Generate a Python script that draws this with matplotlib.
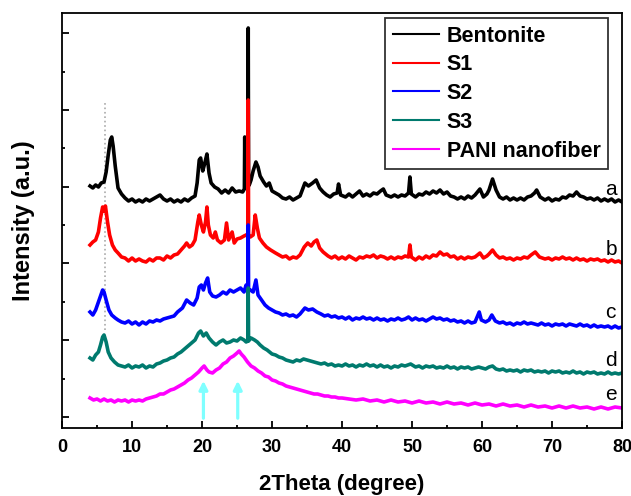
import numpy as np
import matplotlib
matplotlib.use("Agg")
import matplotlib.pyplot as plt
from matplotlib.ticker import MultipleLocator

plt.rcParams['font.family'] = ['Liberation Sans', 'DejaVu Sans']

# XRD patterns, offset vertically (arbitrary units)
theta_a = [4.0, 4.4, 4.8, 5.2, 5.6, 6.0, 6.3, 6.6, 6.9, 7.1, 7.3, 7.6, 8.0, 8.5, 9.0, 9.5,
           10.0, 10.5, 11.0, 11.5, 12.0, 12.5, 13.0, 13.5, 14.0, 14.5, 15.0, 15.5, 16.0, 16.5,
           17.0, 17.5, 18.0, 18.5, 19.0, 19.3, 19.6, 19.8, 20.1, 20.4, 20.7, 21.0, 21.3, 21.8,
           22.3, 22.8, 23.3, 23.8, 24.3, 24.8, 25.3, 25.8, 26.05, 26.1, 26.15, 26.4, 26.55, 26.6,
           26.65, 26.8, 27.0, 27.3, 27.7, 28.0, 28.3, 28.8, 29.2, 29.6, 30.0, 30.5, 31.0, 31.5,
           32.0, 32.5, 33.0, 33.5, 34.0, 34.7, 35.2, 35.8, 36.3, 36.8, 37.3, 37.8, 38.3, 38.8,
           39.3, 39.5, 39.8, 40.5, 41.0, 41.5, 42.0, 42.5, 43.0, 43.5, 44.0, 44.5, 45.0, 45.5,
           45.9, 46.3, 47.0, 47.5, 48.0, 48.5, 49.0, 49.5, 49.7, 49.9, 50.5, 51.0, 51.5, 52.0,
           52.5, 53.0, 53.5, 54.0, 54.5, 55.0, 55.5, 56.0, 56.5, 57.0, 57.5, 58.0, 58.5, 59.0,
           59.7, 60.2, 60.7, 61.0, 61.5, 62.0, 62.5, 63.0, 63.5, 64.0, 64.5, 65.0, 65.5, 66.0,
           66.5, 67.0, 67.5, 67.8, 68.3, 69.0, 69.5, 70.0, 70.5, 71.0, 71.5, 72.0, 72.5, 73.0,
           73.5, 74.0, 74.5, 75.0, 75.5, 76.0, 76.5, 77.0, 77.5, 78.0, 78.5, 79.0, 79.5, 80.0]
int_a = [242, 240, 243, 241, 245, 246, 256, 273, 288, 291, 282, 262, 240, 234, 230, 227,
         229, 226, 228, 226, 229, 227, 229, 231, 233, 229, 227, 229, 226, 228,
         226, 229, 227, 230, 232, 245, 268, 270, 257, 265, 274, 255, 245, 241,
         239, 235, 238, 235, 240, 236, 237, 236, 239, 291, 240, 241, 242, 400,
         242, 244, 248, 257, 266, 261, 252, 246, 242, 245, 237, 235, 233, 230,
         229, 231, 228, 230, 232, 245, 242, 245, 248, 240, 236, 233, 231, 234,
         235, 244, 233, 231, 234, 231, 234, 237, 232, 234, 232, 235, 234, 237,
         239, 233, 231, 233, 231, 233, 232, 235, 251, 234, 231, 234, 233, 236,
         234, 237, 235, 238, 234, 236, 232, 231, 229, 231, 229, 232, 230, 233,
         239, 231, 234, 238, 249, 238, 231, 229, 231, 228, 230, 228, 230, 228,
         231, 232, 235, 238, 231, 228, 230, 227, 229, 228, 231, 230, 233, 232,
         236, 232, 231, 229, 230, 228, 230, 227, 229, 227, 229, 226, 228, 226]

theta_b = [4.0, 4.4, 4.8, 5.2, 5.5, 5.8, 6.0, 6.2, 6.5, 6.8, 7.2, 7.6, 8.0, 8.5, 9.0, 9.5,
           10.0, 10.5, 11.0, 11.5, 12.0, 12.5, 13.0, 13.5, 14.0, 14.5, 15.0, 15.5, 16.0, 16.5,
           17.0, 17.5, 17.8, 18.2, 18.6, 19.0, 19.4, 19.6, 19.9, 20.2, 20.5, 20.7, 20.9, 21.2,
           21.6, 21.9, 22.2, 22.7, 23.2, 23.5, 23.8, 24.3, 24.6, 25.0, 25.5, 26.0, 26.3, 26.55,
           26.6, 26.65, 26.9, 27.3, 27.6, 27.9, 28.2, 28.7, 29.2, 29.8, 30.5, 31.0, 31.5, 32.0,
           32.5, 33.0, 33.5, 34.0, 34.6, 35.1, 35.6, 36.0, 36.4, 36.8, 37.3, 38.0, 38.5, 39.0,
           39.5, 40.0, 40.5, 41.0, 41.5, 42.0, 42.5, 43.0, 43.5, 44.0, 44.5, 45.0, 45.5, 46.0,
           46.5, 47.0, 47.5, 48.0, 48.5, 49.0, 49.5, 49.7, 49.9, 50.5, 51.0, 51.5, 52.0, 52.5,
           53.0, 53.5, 54.0, 54.5, 55.0, 55.5, 56.0, 56.5, 57.0, 57.5, 58.0, 58.5, 59.0, 59.7,
           60.2, 60.7, 61.0, 61.5, 62.0, 62.5, 63.0, 63.5, 64.0, 64.5, 65.0, 65.5, 66.0, 66.5,
           67.0, 67.6, 68.2, 69.0, 69.5, 70.0, 70.5, 71.0, 71.5, 72.0, 72.5, 73.0, 73.5, 74.0,
           74.5, 75.0, 75.5, 76.0, 76.5, 77.0, 77.5, 78.0, 78.5, 79.0, 79.5, 80.0]
int_b = [183, 186, 188, 196, 210, 221, 217, 222, 206, 193, 183, 178, 175, 171, 170, 167,
         170, 167, 169, 167, 166, 169, 167, 170, 170, 168, 172, 170, 173, 174,
         178, 182, 185, 181, 183, 188, 206, 213, 203, 196, 206, 221, 203, 193,
         190, 196, 188, 185, 188, 205, 188, 196, 185, 189, 190, 192, 193, 194,
         328, 194, 191, 193, 213, 200, 190, 185, 181, 178, 175, 173, 171, 172,
         169, 171, 170, 173, 181, 185, 182, 186, 188, 180, 176, 172, 170, 172,
         169, 171, 169, 172, 170, 168, 171, 170, 172, 171, 173, 170, 172, 171,
         169, 171, 169, 171, 170, 172, 171, 183, 171, 168, 171, 169, 172, 170,
         173, 172, 176, 173, 174, 171, 172, 169, 171, 169, 171, 170, 171, 175,
         170, 172, 174, 178, 173, 170, 171, 169, 170, 168, 170, 169, 171, 170,
         173, 176, 171, 169, 170, 168, 170, 169, 171, 169, 170, 168, 170, 168,
         169, 167, 169, 168, 169, 167, 168, 166, 168, 166, 167, 165]

theta_c = [4.0, 4.4, 4.8, 5.2, 5.5, 5.8, 6.0, 6.3, 6.7, 7.1, 7.6, 8.0, 8.5, 9.0, 9.5,
           10.0, 10.5, 11.0, 11.5, 12.0, 12.5, 13.0, 13.5, 14.0, 14.5, 15.0, 15.5, 16.0, 16.5,
           17.2, 17.8, 18.3, 18.8, 19.3, 19.6, 19.9, 20.2, 20.5, 20.8, 21.1, 21.5, 22.0, 22.5,
           23.0, 23.5, 24.0, 24.5, 25.0, 25.5, 26.0, 26.3, 26.55, 26.6, 26.65, 26.9, 27.3, 27.7,
           28.0, 28.5, 29.0, 29.5, 30.0, 30.5, 31.0, 31.5, 32.0, 32.5, 33.0, 33.5, 34.0, 34.7,
           35.2, 35.8, 36.4, 37.0, 37.5, 38.0, 38.5, 39.0, 39.5, 40.0, 40.5, 41.0, 41.5, 42.0,
           42.5, 43.0, 43.5, 44.0, 44.5, 45.0, 45.5, 46.0, 46.5, 47.0, 47.5, 48.0, 48.5, 49.0,
           49.5, 50.0, 50.5, 51.0, 51.5, 52.0, 52.5, 53.0, 53.5, 54.0, 54.5, 55.0, 55.5, 56.0,
           56.5, 57.0, 57.5, 58.0, 58.5, 59.0, 59.6, 59.9, 60.5, 61.0, 61.4, 61.9, 62.5, 63.0,
           63.5, 64.0, 64.5, 65.0, 65.5, 66.0, 66.5, 67.0, 67.5, 68.0, 68.5, 69.0, 69.5, 70.0,
           70.5, 71.0, 71.5, 72.0, 72.5, 73.0, 73.5, 74.0, 74.5, 75.0, 75.5, 76.0, 76.5, 77.0,
           77.5, 78.0, 78.5, 79.0, 79.5, 80.0]
int_c = [116, 113, 118, 126, 132, 138, 136, 128, 118, 113, 110, 108, 106, 105, 107,
         104, 106, 103, 106, 104, 107, 106, 108, 107, 109, 110, 111, 112, 116,
         120, 128, 125, 123, 130, 141, 143, 138, 145, 150, 136, 132, 131, 133,
         136, 134, 138, 136, 138, 140, 136, 143, 138, 203, 138, 138, 136, 148,
         133, 128, 123, 120, 118, 116, 115, 113, 114, 112, 113, 111, 114, 120,
         118, 119, 116, 114, 112, 113, 111, 112, 110, 111, 109, 111, 108, 110,
         109, 111, 109, 110, 108, 110, 108, 109, 107, 109, 108, 110, 108, 109,
         111, 108, 110, 108, 109, 107, 109, 111, 109, 110, 108, 109, 107, 108,
         106, 107, 105, 107, 105, 106, 116, 108, 106, 108, 113, 107, 105, 106,
         104, 105, 103, 105, 104, 106, 104, 105, 104, 103, 105, 103, 104, 102,
         104, 103, 104, 102, 104, 103, 102, 104, 102, 103, 101, 103, 101, 102,
         101, 102, 100, 102, 100, 101]

theta_d = [4.0, 4.4, 4.8, 5.2, 5.5, 5.8, 6.0, 6.3, 6.6, 7.0, 7.5, 8.0, 8.5, 9.0, 9.5,
           10.0, 10.5, 11.0, 11.5, 12.0, 12.5, 13.0, 13.5, 14.0, 14.5, 15.0, 15.5, 16.0, 16.5,
           17.0, 17.5, 18.0, 18.5, 19.0, 19.5, 19.8, 20.2, 20.6, 21.0, 21.5, 22.0, 22.5, 23.0,
           23.5, 24.0, 24.5, 25.0, 25.5, 26.0, 26.3, 26.55, 26.6, 26.65, 27.0, 27.5, 27.9, 28.3,
           28.8, 29.3, 30.0, 30.5, 31.0, 31.5, 32.0, 32.5, 33.0, 33.5, 34.0, 34.5, 35.0, 35.5,
           36.0, 36.5, 37.0, 37.5, 38.0, 38.5, 39.0, 39.5, 40.0, 40.5, 41.0, 41.5, 42.0, 42.5,
           43.0, 43.5, 44.0, 44.5, 45.0, 45.5, 46.0, 46.5, 47.0, 47.5, 48.0, 48.5, 49.0, 49.8,
           50.5, 51.0, 51.5, 52.0, 52.5, 53.0, 53.5, 54.0, 54.5, 55.0, 55.5, 56.0, 56.5, 57.0,
           57.5, 58.0, 58.5, 59.0, 59.5, 60.0, 60.5, 61.0, 61.5, 62.0, 62.5, 63.0, 63.5, 64.0,
           64.5, 65.0, 65.5, 66.0, 66.5, 67.0, 67.5, 68.0, 68.5, 69.0, 69.5, 70.0, 70.5, 71.0,
           71.5, 72.0, 72.5, 73.0, 73.5, 74.0, 74.5, 75.0, 75.5, 76.0, 76.5, 77.0, 77.5, 78.0,
           78.5, 79.0, 79.5, 80.0]
int_d = [70, 68, 73, 76, 83, 91, 93, 86, 76, 70, 66, 63, 62, 61, 63,
         60, 62, 61, 63, 60, 62, 61, 64, 65, 67, 68, 70, 71, 74,
         76, 79, 82, 85, 88, 95, 97, 92, 95, 90, 86, 83, 86, 88,
         85, 86, 88, 87, 90, 88, 86, 87, 140, 87, 90, 88, 86, 83,
         80, 78, 74, 73, 71, 70, 68, 67, 66, 68, 67, 69, 68, 67,
         66, 65, 64, 65, 63, 64, 62, 63, 62, 64, 62, 63, 61, 63,
         62, 64, 62, 63, 61, 63, 61, 62, 60, 62, 61, 63, 62, 64,
         61, 62, 60, 62, 61, 62, 60, 61, 60, 62, 60, 61, 59, 61,
         60, 61, 59, 60, 61, 60, 59, 61, 62, 59, 58, 59, 57, 58,
         57, 58, 56, 58, 57, 58, 56, 57, 56, 57, 55, 57, 56, 57,
         55, 56, 55, 57, 55, 56, 54, 56, 55, 56, 54, 55, 54, 56,
         54, 55, 54, 55]

theta_e = [4.0, 4.5, 5.0, 5.5, 6.0, 6.5, 7.0, 7.5, 8.0, 8.5, 9.0, 9.5, 10.0, 10.5, 11.0,
           11.5, 12.0, 12.5, 13.0, 13.5, 14.0, 14.5, 15.0, 15.5, 16.0, 16.5, 17.0, 17.5, 18.0,
           18.5, 19.0, 19.5, 20.0, 20.3, 20.7, 21.0, 21.5, 22.0, 22.5, 23.0, 23.5, 24.0, 24.5,
           25.0, 25.3, 25.6, 26.0, 26.5, 27.0, 27.5, 28.0, 28.5, 29.0, 29.5, 30.0, 30.5, 31.0,
           31.5, 32.0, 32.5, 33.0, 33.5, 34.0, 34.5, 35.0, 35.5, 36.0, 36.5, 37.0, 37.5, 38.0,
           38.5, 39.0, 39.5, 40.0, 41.0, 42.0, 43.0, 44.0, 45.0, 46.0, 47.0, 48.0, 49.0, 50.0,
           51.0, 52.0, 53.0, 54.0, 55.0, 56.0, 57.0, 58.0, 59.0, 60.0, 61.0, 62.0, 63.0, 64.0,
           65.0, 66.0, 67.0, 68.0, 69.0, 70.0, 71.0, 72.0, 73.0, 74.0, 75.0, 76.0, 77.0, 78.0,
           79.0, 80.0]
int_e = [30, 28, 29, 27, 29, 27, 28, 26, 28, 27, 28, 26, 28, 27, 28,
         27, 29, 30, 31, 32, 34, 34, 36, 38, 39, 41, 43, 45, 48,
         50, 53, 56, 60, 62, 58, 56, 55, 58, 60, 64, 66, 70, 72,
         75, 77, 74, 71, 66, 62, 60, 57, 55, 52, 51, 48, 47, 45,
         44, 42, 41, 40, 39, 38, 37, 36, 35, 34, 34, 33, 32, 32,
         31, 31, 30, 30, 29, 28, 29, 27, 28, 26, 28, 26, 27, 25,
         27, 25, 26, 24, 26, 24, 25, 23, 25, 23, 24, 22, 24, 22,
         23, 21, 23, 21, 22, 20, 22, 20, 22, 20, 21, 19, 21, 19,
         21, 20]

series_names = ['Bentonite', 'S1', 'S2', 'S3', 'PANI nanofiber']
curve_tags = ['a', 'b', 'c', 'd', 'e']
colors = ['black', '#FF0000', '#0000FF', '#007A6E', '#FF00FF']
tag_heights = [238, 178, 115, 67, 33]

# PANI reflections marked with arrows, and the d001 guide line of bentonite
pani_peaks = [20.2, 25.1]
d001_theta = 6.1

fig = plt.figure(figsize=(6.31, 4.96), dpi=100)
ax = fig.add_axes([0.0983, 0.1371, 0.8875, 0.8367])

ax.vlines(d001_theta, 98, 326, colors='#AAAAAA', linestyles=':', lw=1.2, zorder=1)

data = [(theta_a, int_a), (theta_b, int_b), (theta_c, int_c), (theta_d, int_d), (theta_e, int_e)]
for (tt, ii), name, c in zip(data, series_names, colors):
    ax.plot(tt, ii, color=c, lw=2.6, label=name, zorder=2)

for x0 in pani_peaks:
    ax.annotate('', xy=(x0, 50), xytext=(x0, 7),
                arrowprops=dict(arrowstyle='-|>,head_width=0.25,head_length=0.5',
                                color='#7FFFFF', lw=2.3), zorder=3)

for tag, h in zip(curve_tags, tag_heights):
    ax.text(77.6, h, tag, fontsize=15, ha='left', va='center')

ax.set_xlim(0, 80)
ax.set_ylim(0, 415)
ax.xaxis.set_major_locator(MultipleLocator(10))
ax.xaxis.set_minor_locator(MultipleLocator(5))
ax.set_yticks([11, 88, 165, 241, 318, 395])
ax.set_yticks([49, 126, 203, 280, 356], minor=True)
ax.set_yticklabels([])
ax.tick_params(which='both', direction='in', top=False, right=False, width=1.3)
ax.tick_params(which='major', length=5)
ax.tick_params(which='minor', length=2.5)
ax.tick_params(axis='x', labelsize=13, pad=8)
for lab in ax.get_xticklabels():
    lab.set_fontweight('bold')
for s in ax.spines.values():
    s.set_linewidth(1.3)

ax.set_xlabel('2Theta (degree)', fontsize=16, fontweight='bold', labelpad=13)
ax.set_ylabel('Intensity (a.u.)', fontsize=17, fontweight='bold', labelpad=16)

leg = ax.legend(loc='upper right', bbox_to_anchor=(0.975, 0.988), borderaxespad=0,
                prop={'weight': 'bold', 'size': 15.5}, frameon=True, fancybox=False,
                edgecolor='black', handlelength=2.15, handletextpad=0.35,
                labelspacing=0.36, borderpad=0.35)
leg.get_frame().set_linewidth(1.3)
for ln in leg.get_lines():
    ln.set_linewidth(1.5)

fig.savefig('out.png', dpi=100)
